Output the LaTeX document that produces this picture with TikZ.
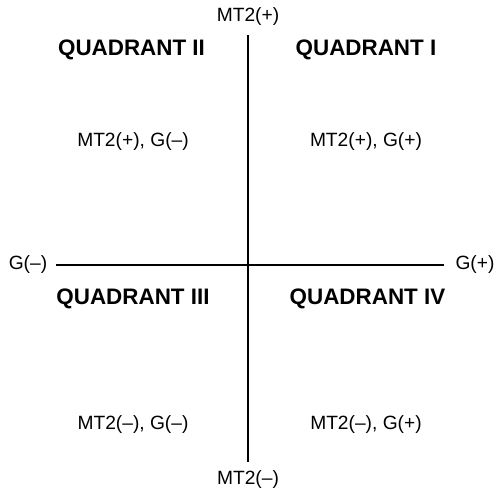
\documentclass[tikz,border=0pt]{standalone}
\usepackage{fontspec}
\setmainfont{Liberation Sans}
\begin{document}
\begin{tikzpicture}[x=1pt,y=-1pt,
  axis/.style={line width=2.8pt,black},
  qtitle/.style={font=\fontsize{22.4}{26}\selectfont\bfseries,inner sep=0pt},
  lbl/.style={font=\fontsize{19.2}{23}\selectfont,inner sep=0pt}]
\useasboundingbox (0,0) rectangle (496,493);
\node[lbl] (top) at (248,17) {MT2(+)};
\node[lbl] (bot) at (248,480) {MT2(–)};
\node[lbl] (left) at (28,265) {G(–)};
\node[lbl] (right) at (475,265) {G(+)};
\coordinate (vt) at (248,35);
\coordinate (vb) at (248,462);
\coordinate (hl) at (56,265);
\coordinate (hr) at (444,265);
\draw[axis] (vt) -- (vb);
\draw[axis] (hl) -- (hr);
\node[qtitle] (q2) at (131.5,50) {QUADRANT II};
\node[qtitle] (q1) at (366,50) {QUADRANT I};
\node[qtitle] (q3) at (133,299) {QUADRANT III};
\node[qtitle] (q4) at (367.5,299) {QUADRANT IV};
\node[lbl] (l2) at (133,142) {MT2(+), G(–)};
\node[lbl] (l1) at (366,142) {MT2(+), G(+)};
\node[lbl] (l3) at (133,425) {MT2(–), G(–)};
\node[lbl] (l4) at (366,425) {MT2(–), G(+)};
\end{tikzpicture}
\end{document}
